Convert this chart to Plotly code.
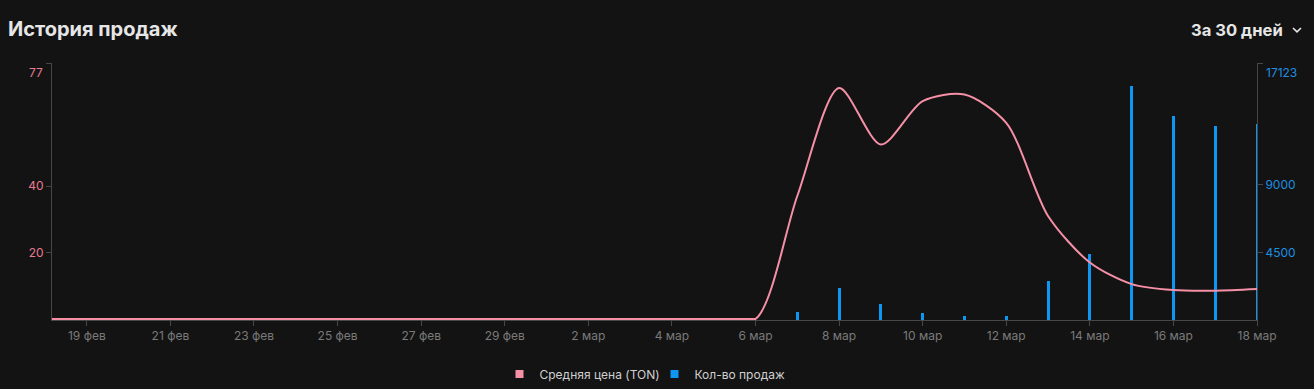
import pandas as pd
import plotly.graph_objects as go

# ---- data ----
price_dates = list(pd.date_range("2024-02-18", "2024-03-18", freq="D"))
price_ton = [0, 0, 0, 0, 0, 0, 0, 0, 0, 0, 0, 0,      # 18-29 фев
             0, 0, 0, 0, 0, 0,                        # 1-6 мар
             37, 69.5, 52.5, 65.5, 67.5, 59,          # 7-12 мар
             31, 17, 10.5, 8.7, 8.5, 9]               # 13-18 мар

sales_dates = list(pd.date_range("2024-03-07", "2024-03-18", freq="D"))
sales_count = [530, 2130, 1070, 500, 280, 280, 2600, 4400, 15600, 13600, 12930, 13070]

tick_dates = list(pd.date_range("2024-02-19", "2024-03-18", freq="2D"))
tick_text = ["19 фев", "21 фев", "23 фев", "25 фев", "27 фев", "29 фев", "2 мар",
             "4 мар", "6 мар", "8 мар", "10 мар", "12 мар", "14 мар", "16 мар", "18 мар"]

left_ticks = [20, 40, 77]
right_ticks = [4500, 9000, 17123]

PINK = "#f590a6"
PINK_TXT = "#e87a92"
BLUE = "#0d96f2"
BLUE_TXT = "#1f8fe0"
BG = "#131313"
AXIS = "#474747"
FONT = "Inter, Roboto, sans-serif"

# plot area geometry (px)
L, R, T, B = 52, 57, 63, 69
PW, PH = 1314 - L - R, 389 - T - B


def px_x(px):
    return (px - L) / PW


def px_y(py):
    return (389 - B - py) / PH


fig = go.Figure()

# legend entries (square symbols)
fig.add_trace(go.Scatter(x=[None], y=[None], mode="markers", name="Средняя цена (TON)",
                         marker=dict(symbol="square", size=8, color=PINK)))
fig.add_trace(go.Scatter(x=[None], y=[None], mode="markers", name="Кол-во продаж",
                         marker=dict(symbol="square", size=8, color=BLUE)))

fig.add_trace(go.Bar(x=sales_dates, y=sales_count, marker=dict(color=BLUE, line=dict(width=0)),
                     width=3 * 86400000 / 41.8, yaxis="y", showlegend=False,
                     name="Кол-во продаж"))

# flat (zero) part of the price series drawn straight, rest smoothed
n_flat = max(i for i, v in enumerate(price_ton) if v == 0) + 1
fig.add_trace(go.Scatter(x=price_dates[:n_flat], y=price_ton[:n_flat], mode="lines",
                         line=dict(color=PINK, width=2),
                         yaxis="y2", showlegend=False, name="Средняя цена (TON)"))
fig.add_trace(go.Scatter(x=price_dates, y=price_ton, mode="lines",
                         line=dict(color=PINK, width=2, shape="spline", smoothing=0.8),
                         yaxis="y2", showlegend=False, name="Средняя цена (TON)"))

axis_common = dict(showgrid=False, zeroline=False, showline=True, linecolor=AXIS,
                   linewidth=1, ticks="outside", ticklen=5, tickcolor=AXIS)

fig.update_layout(
    width=1314, height=389,
    paper_bgcolor=BG, plot_bgcolor=BG,
    margin=dict(l=L, r=R, t=T, b=B, autoexpand=False),
    font=dict(family=FONT, size=12, color="#8a8a8a"),
    bargap=0,
    xaxis=dict(
        type="date",
        range=["2024-02-18 04:00", "2024-03-18 00:00"],
        tickvals=tick_dates, ticktext=tick_text,
        layer="below traces",
        tickfont=dict(color="#7a7a7a", size=12, family=FONT),
        **axis_common,
    ),
    yaxis=dict(
        side="right", range=[0, 17123],
        tickvals=right_ticks, ticktext=[str(v) for v in right_ticks[:-1]] + [""],
        tickfont=dict(color=BLUE_TXT, size=12, family=FONT),
        **axis_common,
    ),
    yaxis2=dict(
        side="left", overlaying="y", anchor="x", range=[-0.3, 77],
        tickvals=left_ticks, ticktext=[str(v) for v in left_ticks[:-1]] + [""],
        tickfont=dict(color=PINK_TXT, size=12, family=FONT),
        **axis_common,
    ),
    legend=dict(
        orientation="h", x=0.5, xanchor="center",
        yref="container", y=15 / 389, yanchor="middle",
        font=dict(color="#d0d0d0", size=12, family=FONT),
        itemwidth=30, entrywidth=110, entrywidthmode="pixels",
        bgcolor="rgba(0,0,0,0)",
    ),
    annotations=[
        dict(text="<b>История продаж</b>", xref="paper", yref="paper",
             x=px_x(6), y=px_y(29), xanchor="left", yanchor="middle",
             showarrow=False, font=dict(size=20, color="#e6e6e6", family=FONT)),
        dict(text="<b>За 30 дней</b>", xref="paper", yref="paper",
             x=px_x(1285), y=px_y(30), xanchor="right", yanchor="middle",
             showarrow=False, font=dict(size=16.6, color="#e6e6e6", family=FONT)),
        # top tick labels, placed just under their ticks
        dict(text=str(left_ticks[-1]), xref="paper", yref="paper",
             x=px_x(45), y=px_y(72), xanchor="right", yanchor="middle",
             showarrow=False, font=dict(size=12, color=PINK_TXT, family=FONT)),
        dict(text=str(right_ticks[-1]), xref="paper", yref="paper",
             x=px_x(1264), y=px_y(72), xanchor="left", yanchor="middle",
             showarrow=False, font=dict(size=12, color=BLUE_TXT, family=FONT)),
    ],
    shapes=[
        dict(type="path", xref="paper", yref="paper",
             path=f"M {px_x(1293)},{px_y(28)} L {px_x(1297)},{px_y(31.8)} L {px_x(1301)},{px_y(28)}",
             line=dict(color="#e6e6e6", width=1.6)),
    ],
)

fig.write_html("out.html")
